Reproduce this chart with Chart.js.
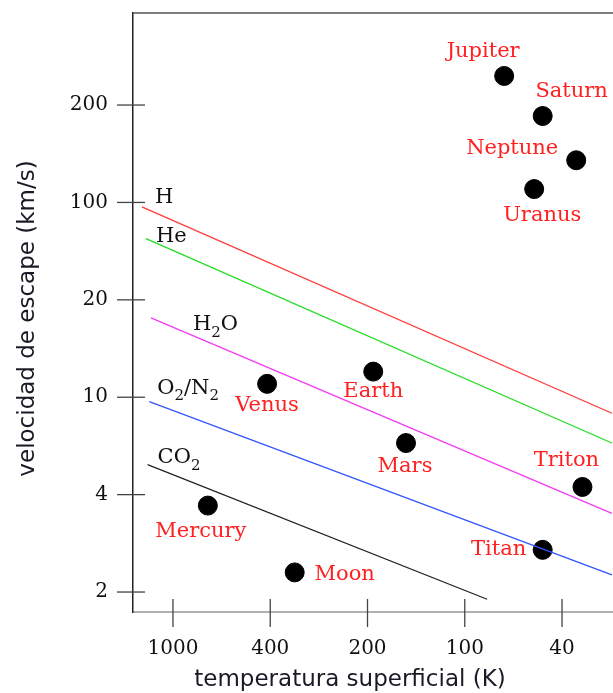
<!DOCTYPE html>
<html>
<head>
<meta charset="utf-8">
<script src="https://cdn.jsdelivr.net/npm/chart.js@4"></script>
<style>
  html, body { margin: 0; padding: 0; background: #fff; overflow: hidden; }
  #wrap { width: 613px; height: 693px; position: relative; }
  canvas { display: block; }
</style>
</head>
<body>
<div id="wrap"><canvas id="chart"></canvas></div>
<script>
// axis tick labels (the original axes are spaced evenly between these labels)
const X_TICKS = [1000, 400, 200, 100, 40];
const Y_TICKS = [2, 4, 10, 20, 100, 200];

// planets and moons: surface temperature (K), escape velocity (km/s)
const BODIES = ["Jupiter", "Saturn", "Neptune", "Uranus", "Earth", "Venus", "Mars", "Moon", "Mercury", "Triton", "Titan"];
const BODY_TEMP = [69, 48, 35, 52, 192, 412, 152, 336, 720, 33, 48];
const BODY_VESC = [246, 185, 135, 110, 12, 11, 6.5, 2.3, 3.7, 4.3, 2.7];

// gas retention lines: start and end of each line
const GASES = ["H", "He", "H2O", "O2/N2", "CO2"];
const GAS_TEMP = [[1340, 25], [1290, 25], [1230, 25], [1250, 25], [1270, 81]];
const GAS_VESC = [[93, 8.6], [55, 6.5], [17.6, 3.5], [9.6, 2.26], [5.3, 1.9]];
const GAS_COLORS = ["#ff3a3a", "#22dd22", "#f23cf2", "#3355ff", "#222222"];

// label placement, px from the point / line start
const BODY_LABEL_OFF = [[-21, -24], [29, -24], [-64, -12], [8, 26], [0, 20], [0, 22], [-1, 24], [50, 2], [-7, 26], [-16, -26], [-44, 0]];
const GAS_LABEL_OFF = [[13, -9], [10, -2], [42, 7], [8, -13], [10, -7]];
const GAS_LABEL_PARTS = [
  [["H", 0]],
  [["He", 0]],
  [["H", 0], ["2", 1], ["O", 0]],
  [["O", 0], ["2", 1], ["/N", 0], ["2", 1]],
  [["CO", 0], ["2", 1]]
];

// position along an evenly spaced tick axis (log between neighbouring ticks)
function axisPos(v, ticks) {
  let i = 0;
  while (i < ticks.length - 2) {
    const lo = Math.min(ticks[i], ticks[i + 1]), hi = Math.max(ticks[i], ticks[i + 1]);
    if (v >= lo && v <= hi) break;
    if (ticks[0] > ticks[1] ? v > ticks[i] : v < ticks[i]) break;
    i++;
  }
  return i + Math.log(v / ticks[i]) / Math.log(ticks[i + 1] / ticks[i]);
}
const tx = (t) => axisPos(t, X_TICKS);
const vy = (v) => axisPos(v, Y_TICKS);

const datasets = GASES.map((g, i) => ({
  type: "line",
  label: g,
  data: GAS_TEMP[i].map((t, k) => ({ x: tx(t), y: vy(GAS_VESC[i][k]) })),
  borderColor: GAS_COLORS[i],
  borderWidth: 1.3,
  pointRadius: 0,
  fill: false
}));
datasets.push({
  type: "scatter",
  label: "bodies",
  data: BODIES.map((b, i) => ({ x: tx(BODY_TEMP[i]), y: vy(BODY_VESC[i]) })),
  backgroundColor: "#000",
  borderColor: "#000",
  pointRadius: 9.5,
  pointHoverRadius: 9.5
});

function drawParts(ctx, parts, x, y) {
  let cx = x;
  parts.forEach(([txt, sub]) => {
    ctx.font = sub ? "15px 'DejaVu Serif'" : "21px 'DejaVu Serif'";
    ctx.fillText(txt, cx, sub ? y + 8 : y);
    cx += ctx.measureText(txt).width;
  });
}

const overlay = {
  id: "overlay",
  afterDraw(chart) {
    const { ctx, chartArea: a, scales: { x, y } } = chart;
    ctx.save();
    ctx.lineCap = "butt";
    // top frame line
    ctx.strokeStyle = "#555";
    ctx.lineWidth = 1.5;
    ctx.beginPath();
    ctx.moveTo(a.left, a.top);
    ctx.lineTo(a.right, a.top);
    ctx.stroke();
    // tick marks crossing the axes
    ctx.strokeStyle = "#444";
    ctx.lineWidth = 1.3;
    y.ticks.forEach((t) => {
      const py = y.getPixelForValue(t.value);
      ctx.beginPath();
      ctx.moveTo(a.left - 16, py);
      ctx.lineTo(a.left + 12, py);
      ctx.stroke();
    });
    x.ticks.forEach((t) => {
      const px = x.getPixelForValue(t.value);
      ctx.beginPath();
      ctx.moveTo(px, a.bottom - 13);
      ctx.lineTo(px, a.bottom + 15);
      ctx.stroke();
    });

    // body labels
    ctx.fillStyle = "#ff2020";
    ctx.font = "21px 'DejaVu Serif'";
    ctx.textAlign = "center";
    ctx.textBaseline = "middle";
    const pts = chart.getDatasetMeta(GASES.length).data;
    BODIES.forEach((b, i) => {
      ctx.fillText(b, pts[i].x + BODY_LABEL_OFF[i][0], pts[i].y + BODY_LABEL_OFF[i][1]);
    });

    // gas labels
    ctx.fillStyle = "#111";
    ctx.textAlign = "left";
    GASES.forEach((g, i) => {
      const p = chart.getDatasetMeta(i).data[0];
      drawParts(ctx, GAS_LABEL_PARTS[i], p.x + GAS_LABEL_OFF[i][0], p.y + GAS_LABEL_OFF[i][1]);
    });

    // axis titles
    ctx.fillStyle = "#1a1a26";
    ctx.font = "23px 'DejaVu Sans'";
    ctx.textAlign = "center";
    ctx.fillText("temperatura superficial (K)", (a.left + a.right) / 2 - 23, 680);
    ctx.translate(28, (a.top + a.bottom) / 2 + 6);
    ctx.rotate(-Math.PI / 2);
    ctx.fillText("velocidad de escape (km/s)", 0, 0);
    ctx.restore();
  }
};

const noPad = (s) => {
  s.paddingTop = 0;
  s.paddingBottom = 0;
  s.paddingLeft = 0;
  s.paddingRight = 0;
};

new Chart(document.getElementById("chart"), {
  data: { datasets },
  options: {
    responsive: true,
    maintainAspectRatio: false,
    animation: false,
    layout: { autoPadding: false, padding: { top: 13, right: 0, left: 0, bottom: 0 } },
    plugins: { legend: { display: false }, tooltip: { enabled: false } },
    scales: {
      x: {
        type: "linear",
        min: -0.411,
        max: 4.524,
        afterFit: (s) => { s.height = 81; noPad(s); },
        afterBuildTicks: (s) => { s.ticks = X_TICKS.map((_, i) => ({ value: i })); },
        ticks: {
          callback: (v) => X_TICKS[Math.round(v)],
          font: { family: "'DejaVu Serif'", size: 20 },
          color: "#111",
          padding: 25,
          maxRotation: 0
        },
        grid: { drawOnChartArea: false, drawTicks: false },
        border: { color: "#b0b0b0", width: 2 }
      },
      y: {
        type: "linear",
        min: -0.205,
        max: 5.945,
        afterFit: (s) => { s.width = 133; noPad(s); },
        afterBuildTicks: (s) => { s.ticks = Y_TICKS.map((_, i) => ({ value: i })); },
        ticks: {
          callback: (v) => Y_TICKS[Math.round(v)],
          font: { family: "'DejaVu Serif'", size: 20 },
          color: "#111",
          padding: 25
        },
        grid: { drawOnChartArea: false, drawTicks: false },
        border: { color: "#222", width: 1.5 }
      }
    }
  },
  plugins: [overlay]
});
</script>
</body>
</html>
